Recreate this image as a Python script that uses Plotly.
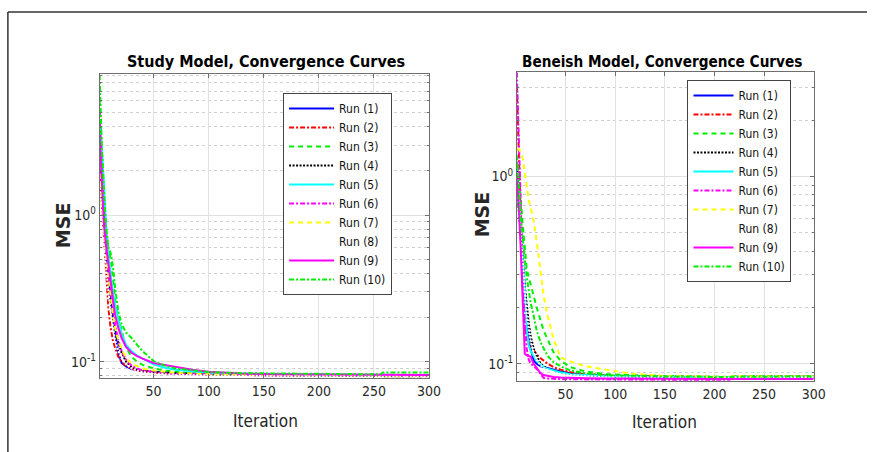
import math
import plotly.graph_objects as go

# ---------------- data ----------------
RUN_NAMES = ["Run (1)", "Run (2)", "Run (3)", "Run (4)", "Run (5)",
             "Run (6)", "Run (7)", "Run (8)", "Run (9)", "Run (10)"]

# Study model (left panel)
study_iter = [1, 2, 3, 5, 7, 9, 11, 13, 15, 18, 21, 25, 30, 35, 40, 50, 60, 70, 85, 100, 130, 160, 200, 256, 258, 300]
study_run1 = [3.0, 2.2, 1.6, 0.9, 0.55, 0.36, 0.26, 0.2, 0.155, 0.115, 0.098, 0.093, 0.089, 0.087, 0.086, 0.085, 0.084, 0.0835, 0.083, 0.0825, 0.082, 0.0815, 0.0815, 0.081, 0.081, 0.081]
study_run2 = [2.5, 1.7, 1.2, 0.7, 0.36, 0.23, 0.17, 0.14, 0.125, 0.108, 0.1, 0.094, 0.09, 0.087, 0.086, 0.084, 0.083, 0.0825, 0.082, 0.0815, 0.081, 0.0805, 0.08, 0.0795, 0.0795, 0.0795]
study_run3 = [6.0, 3.8, 2.5, 1.3, 0.8, 0.58, 0.5, 0.38, 0.27, 0.2, 0.16, 0.125, 0.108, 0.1, 0.095, 0.09, 0.087, 0.085, 0.083, 0.082, 0.081, 0.0805, 0.08, 0.0795, 0.0795, 0.0795]
study_run4 = [2.0, 1.5, 1.1, 0.7, 0.48, 0.34, 0.25, 0.2, 0.165, 0.135, 0.115, 0.1, 0.092, 0.089, 0.087, 0.085, 0.084, 0.083, 0.0825, 0.082, 0.0815, 0.081, 0.081, 0.0805, 0.0805, 0.0805]
study_run5 = [4.0, 3.3, 2.8, 1.6, 0.8, 0.52, 0.38, 0.3, 0.245, 0.19, 0.155, 0.13, 0.118, 0.11, 0.105, 0.096, 0.091, 0.088, 0.086, 0.084, 0.083, 0.082, 0.0815, 0.081, 0.081, 0.081]
study_run6 = [5.0, 3.0, 2.0, 1.0, 0.6, 0.42, 0.3, 0.23, 0.18, 0.14, 0.118, 0.103, 0.094, 0.09, 0.087, 0.085, 0.083, 0.0825, 0.082, 0.0815, 0.081, 0.0805, 0.0805, 0.08, 0.08, 0.08]
study_run7 = [2.2, 1.6, 1.2, 0.75, 0.52, 0.37, 0.28, 0.21, 0.17, 0.14, 0.122, 0.106, 0.097, 0.093, 0.09, 0.087, 0.085, 0.084, 0.083, 0.082, 0.0815, 0.081, 0.081, 0.0805, 0.0805, 0.0805]
study_run8 = [1.8, 1.3, 1.0, 0.62, 0.42, 0.3, 0.22, 0.17, 0.14, 0.118, 0.105, 0.096, 0.09, 0.087, 0.085, 0.083, 0.082, 0.0815, 0.081, 0.0805, 0.08, 0.08, 0.0795, 0.0795, 0.0795, 0.0795]
study_run9 = [3.5, 2.3, 1.5, 0.85, 0.6, 0.45, 0.35, 0.27, 0.21, 0.17, 0.145, 0.126, 0.115, 0.109, 0.105, 0.098, 0.095, 0.092, 0.088, 0.0855, 0.083, 0.082, 0.0815, 0.081, 0.081, 0.081]
study_run10 = [9.0, 5.0, 3.0, 1.4, 0.8, 0.6, 0.55, 0.45, 0.32, 0.22, 0.18, 0.158, 0.145, 0.13, 0.118, 0.101, 0.094, 0.09, 0.087, 0.085, 0.0835, 0.083, 0.0825, 0.082, 0.0845, 0.0845]

# Beneish model (right panel)
beneish_iter = [1, 2, 3, 5, 7, 9, 11, 13, 15, 18, 21, 25, 28, 32, 38, 45, 55, 70, 90, 116, 150, 200, 215, 217, 300]
beneish_run1 = [1.2, 1.0, 0.8, 0.55, 0.38, 0.25, 0.17, 0.14, 0.12, 0.104, 0.1, 0.097, 0.096, 0.095, 0.093, 0.091, 0.089, 0.087, 0.086, 0.0855, 0.085, 0.0845, 0.0845, 0.0848, 0.0848]
beneish_run2 = [3.0, 2.0, 1.2, 0.6, 0.25, 0.155, 0.14, 0.13, 0.125, 0.118, 0.112, 0.107, 0.104, 0.1, 0.096, 0.093, 0.09, 0.088, 0.0865, 0.086, 0.0855, 0.085, 0.085, 0.0852, 0.0852]
beneish_run3 = [1.3, 1.15, 1.0, 0.75, 0.55, 0.4, 0.32, 0.29, 0.26, 0.23, 0.2, 0.17, 0.15, 0.135, 0.115, 0.104, 0.096, 0.091, 0.088, 0.087, 0.086, 0.0855, 0.085, 0.0858, 0.0858]
beneish_run4 = [0.9, 0.75, 0.65, 0.45, 0.34, 0.26, 0.2, 0.165, 0.14, 0.12, 0.11, 0.1, 0.097, 0.094, 0.092, 0.09, 0.088, 0.087, 0.086, 0.0855, 0.085, 0.085, 0.085, 0.0852, 0.0852]
beneish_run5 = [1.0, 0.85, 0.7, 0.5, 0.36, 0.25, 0.15, 0.125, 0.117, 0.109, 0.103, 0.099, 0.096, 0.094, 0.092, 0.09, 0.088, 0.087, 0.086, 0.0855, 0.085, 0.0848, 0.0848, 0.085, 0.085]
beneish_run6 = [3.6, 2.5, 1.5, 0.7, 0.3, 0.16, 0.12, 0.105, 0.1, 0.097, 0.094, 0.088, 0.084, 0.0835, 0.083, 0.0828, 0.0826, 0.0824, 0.0822, 0.082, 0.082, 0.0818, 0.0818, 0.0838, 0.0838]
beneish_run7 = [1.4, 1.4, 1.4, 1.35, 1.25, 1.05, 0.88, 0.75, 0.68, 0.58, 0.45, 0.3, 0.23, 0.18, 0.135, 0.108, 0.103, 0.097, 0.093, 0.0885, 0.086, 0.085, 0.085, 0.0855, 0.0855]
beneish_run8 = [1.1, 0.9, 0.7, 0.5, 0.35, 0.24, 0.18, 0.15, 0.13, 0.115, 0.105, 0.098, 0.095, 0.093, 0.09, 0.088, 0.087, 0.086, 0.0855, 0.085, 0.0848, 0.0845, 0.0845, 0.085, 0.085]
beneish_run9 = [1.0, 0.85, 0.7, 0.4, 0.2, 0.113, 0.111, 0.11, 0.109, 0.1, 0.095, 0.089, 0.087, 0.086, 0.085, 0.0845, 0.084, 0.0837, 0.0835, 0.0833, 0.083, 0.083, 0.083, 0.083, 0.083]
beneish_run10 = [1.2, 1.05, 0.9, 0.6, 0.45, 0.36, 0.29, 0.25, 0.21, 0.18, 0.15, 0.13, 0.12, 0.11, 0.102, 0.097, 0.092, 0.089, 0.087, 0.086, 0.0855, 0.085, 0.085, 0.0856, 0.0856]

x_tick_vals = [50, 100, 150, 200, 250, 300]
y_tick_vals = [0.1, 1]
y_tick_text = ["10<sup>-1</sup>", "10<sup>0</sup>"]
y_minor_vals = [0.08, 0.09, 0.2, 0.3, 0.4, 0.5, 0.6, 0.7, 0.8, 0.9, 2, 3, 4, 5, 6, 7, 8, 9]

study_runs = [study_run1, study_run2, study_run3, study_run4, study_run5,
              study_run6, study_run7, study_run8, study_run9, study_run10]
beneish_runs = [beneish_run1, beneish_run2, beneish_run3, beneish_run4, beneish_run5,
                beneish_run6, beneish_run7, beneish_run8, beneish_run9, beneish_run10]

# ---------------- styles ----------------
COLORS = ["#0000ff", "#ff0000", "#00ee00", "#000000", "#00ffff",
          "#ff00ff", "#ffff00", "#ffffff", "#ff00ff", "#00ee00"]
DASHES = ["solid", "5px,2px,2px,2px", "5px,4px", "2px,1.5px", "solid",
          "5px,2px,2px,2px", "5px,4px", "2px,1.5px", "solid", "5px,2px,2px,2px"]
FONT = "DejaVu Sans Condensed, Liberation Sans Narrow, Arial Narrow, Liberation Sans, sans-serif"
FONT_WIDE = "DejaVu Sans, Liberation Sans, Arial, sans-serif"

W, H = 879, 452

fig = go.Figure()
for i in range(10):
    fig.add_trace(go.Scatter(x=study_iter, y=study_runs[i], mode="lines", name=RUN_NAMES[i],
                             line=dict(color=COLORS[i], dash=DASHES[i], width=2),
                             xaxis="x", yaxis="y", legend="legend"))
for i in range(10):
    fig.add_trace(go.Scatter(x=beneish_iter, y=beneish_runs[i], mode="lines", name=RUN_NAMES[i],
                             line=dict(color=COLORS[i], dash=DASHES[i], width=2),
                             xaxis="x2", yaxis="y2", legend="legend2"))


def px_x(p):
    return p / W


def px_y(p):
    return 1 - p / H


def xaxis_cfg(dom, anchor):
    return dict(domain=dom, anchor=anchor, range=[1, 300], tickvals=x_tick_vals,
                showline=True, linecolor="#6e6e6e", linewidth=1, mirror="ticks",
                ticks="inside", ticklen=4, tickcolor="#6e6e6e",
                showgrid=True, gridcolor="#e2e2e2", gridwidth=1, zeroline=False,
                tickfont=dict(family=FONT, size=14, color="#2a2a2a"))


def yaxis_cfg(dom, anchor, lo, hi):
    return dict(domain=dom, anchor=anchor, type="log", range=[math.log10(lo), math.log10(hi)],
                tickvals=y_tick_vals, ticktext=y_tick_text,
                showline=True, linecolor="#6e6e6e", linewidth=1, mirror="ticks",
                ticks="inside", ticklen=4, tickcolor="#6e6e6e",
                showgrid=True, gridcolor="#e2e2e2", gridwidth=1, zeroline=False,
                minor=dict(tickvals=y_minor_vals, showgrid=True, griddash="dot",
                           gridcolor="#cfcfcf", gridwidth=1, ticks="inside", ticklen=2,
                           tickcolor="#6e6e6e"),
                tickfont=dict(family=FONT, size=14, color="#2a2a2a"))


legend_common = dict(bgcolor="#ffffff", bordercolor="#444444", borderwidth=1,
                     font=dict(family=FONT, size=12, color="#111111"),
                     xanchor="left", yanchor="top", tracegroupgap=0)

mse_font = dict(family=FONT_WIDE, size=19, color="#262626")
iter_font = dict(family=FONT, size=17, color="#262626")


def label(text, x, y, font, angle=0):
    return dict(text=text, x=px_x(x), y=px_y(y), xref="paper", yref="paper",
                xanchor="center", yanchor="middle", textangle=angle,
                showarrow=False, font=font)


fig.update_layout(
    width=W, height=H, margin=dict(l=0, r=0, t=0, b=0),
    paper_bgcolor="#ffffff", plot_bgcolor="#ffffff",
    xaxis=xaxis_cfg([px_x(101), px_x(435)], "y"),
    yaxis=yaxis_cfg([px_y(378), px_y(74)], "x", 0.0774, 9.15),
    xaxis2=xaxis_cfg([px_x(524), px_x(825)], "y2"),
    yaxis2=yaxis_cfg([px_y(380.7), px_y(72)], "x2", 0.0812, 3.62),
    legend=dict(x=px_x(287), y=px_y(93), itemwidth=45, **legend_common),
    legend2=dict(x=px_x(697), y=px_y(80), itemwidth=40, **legend_common),
    showlegend=True,
    annotations=[
        label("<b>Study Model, Convergence Curves</b>", 270, 61,
              dict(family=FONT, size=16, color="#000000")),
        label("<b>Beneish Model, Convergence Curves</b>", 671, 62,
              dict(family=FONT, size=15.2, color="#000000")),
        label("<b>MSE</b>", 64, 225, mse_font, -90),
        label("<b>MSE</b>", 489, 214, mse_font, -90),
        label("Iteration", 269, 421, iter_font),
        label("Iteration", 674, 422, iter_font),
    ],
    shapes=[
        dict(type="line", xref="paper", yref="paper", x0=px_x(8), x1=1.0, y0=px_y(12), y1=px_y(12),
             line=dict(color="#333333", width=1.5)),
        dict(type="line", xref="paper", yref="paper", x0=px_x(8), x1=px_x(8), y0=px_y(12), y1=0.0,
             line=dict(color="#333333", width=1.5)),
    ],
)

fig.write_html(
    "out.html", config={"displayModeBar": False, "responsive": False},
    post_script=("document.documentElement.style.margin='0';"
                 "document.documentElement.style.padding='0';"
                 "document.documentElement.style.overflow='hidden';"
                 "document.body.style.margin='0';document.body.style.padding='0';"
                 "document.body.style.overflow='hidden';"),
)
